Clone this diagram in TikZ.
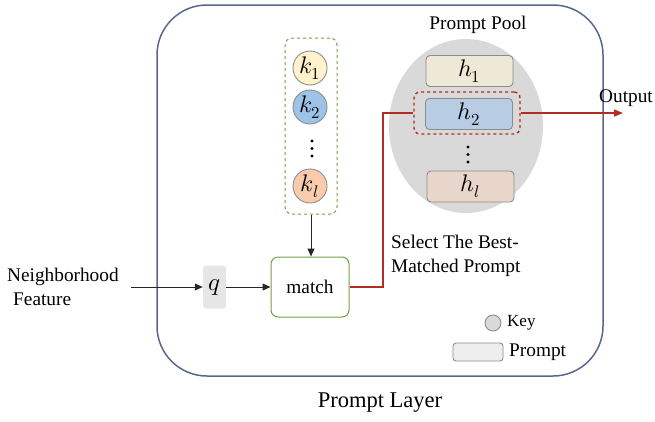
\documentclass[tikz,border=0pt]{standalone}
\usepackage{fontspec}
\usepackage{unicode-math}
\setmainfont{Liberation Serif}
\setmathfont{Latin Modern Math}
\usetikzlibrary{arrows.meta,calc}
\definecolor{frame}{RGB}{88,104,140}
\definecolor{mgreen}{RGB}{112,160,70}
\definecolor{mred}{RGB}{178,45,35}
\definecolor{kone}{RGB}{255,242,204}
\definecolor{ktwo}{RGB}{157,195,230}
\definecolor{kell}{RGB}{248,203,173}
\definecolor{hone}{RGB}{238,232,214}
\definecolor{htwo}{RGB}{184,204,228}
\definecolor{hell}{RGB}{232,214,202}
\definecolor{pool}{RGB}{217,217,217}
\definecolor{qfill}{RGB}{231,230,230}
\definecolor{outl}{RGB}{140,140,140}
\tikzset{
  txt/.style={font=\fontsize{19.3}{24}\selectfont, inner sep=0pt},
  keyc/.style={circle, draw=outl, line width=0.9pt, minimum size=34pt, inner sep=0pt, font=\fontsize{24}{26}\selectfont},
  hbox/.style={rectangle, rounded corners=4pt, draw=outl, line width=0.9pt, minimum width=87pt, minimum height=31pt, inner sep=0pt, font=\fontsize{24}{26}\selectfont},
  arr/.style={-{Triangle[length=8pt,width=7pt]}, line width=1pt, draw=black!85},
  redarr/.style={line width=1.4pt, draw=mred},
  dotc/.style={circle, fill=black, inner sep=0pt, minimum size=3.2pt}
}
\begin{document}
\begin{tikzpicture}[x=1pt,y=-1pt]
\useasboundingbox (0,0) rectangle (655,421);
% outer frame
\draw[frame, line width=1.5pt, rounded corners=50pt] (157,5) rectangle (603,376);
\node[txt, font=\fontsize{22.5}{26}\selectfont] (layer) at (380,403) {Prompt Layer};
% keys
\node[draw=mgreen, dashed, line width=1pt, rounded corners=7pt, minimum width=52pt, minimum height=176pt, inner sep=0pt] (keys) at (311,126) {};
\node[keyc, fill=kone] (k1) at (310,68) {$k_1$};
\node[keyc, fill=ktwo] (k2) at (310,107) {$k_2$};
\node[dotc] (kd1) at (312,141) {};
\node[dotc] (kd2) at (312,148.5) {};
\node[dotc] (kd3) at (312,156) {};
\node[keyc, fill=kell] (kl) at (310,186) {$k_l$};
% match
\node[draw=mgreen, line width=1pt, rounded corners=7pt, minimum width=78pt, minimum height=60pt, inner sep=0pt, txt] (match) at (310,287) {match};
\node[fill=qfill, rounded corners=3pt, minimum width=23pt, minimum height=43pt, inner sep=0pt, font=\fontsize{25}{26}\selectfont] (q) at (214.5,287) {$q$};
\node[txt, align=left, anchor=west] (nf) at (7,287) {Neighborhood\\\hspace{6pt}Feature};
\draw[arr] ([xshift=12pt]nf.east) -- (q.west);
\draw[arr] (q.east) -- (match.west);
\draw[arr] (keys.south) -- (keys.south |- match.north);
% prompt pool
\fill[pool] (466,126) ellipse [x radius=77, y radius=87];
\node[txt] (pp) at (478,25) {Prompt Pool};
\node[hbox, fill=hone] (h1) at (469.5,71) {$h_1$};
\node[hbox, fill=htwo] (h2) at (469,114) {$h_2$};
\node[dotc] (hd1) at (468,147) {};
\node[dotc] (hd2) at (468,154.5) {};
\node[dotc] (hd3) at (468,162) {};
\node[hbox, fill=hell] (hl) at (470.5,186.5) {$h_l$};
\node[draw=mred, dashed, line width=1.4pt, rounded corners=6pt, minimum width=106pt, minimum height=42pt, inner sep=0pt] (sel) at (467,113) {};
% selection path
\coordinate (turn) at (383,287);
\draw[redarr] (match.east) -- (turn) |- (sel.west);
\coordinate (out) at (623,113);
\draw[redarr, -{Triangle[length=9pt,width=7pt]}] (sel.east) -- (out);
\node[txt] (outl) at (626,98) {Output};
\node[txt, align=left, anchor=west] (selt) at (391,256) {Select The Best-\\Matched Prompt};
% legend
\node[circle, draw=outl, fill=pool, line width=0.9pt, minimum size=16pt, inner sep=0pt] (lk) at (493,323) {};
\node[txt, font=\fontsize{17}{20}\selectfont, anchor=west] (lkt) at (507,323) {Key};
\node[rectangle, rounded corners=3pt, draw=outl, fill=qfill!70, line width=0.9pt, minimum width=50pt, minimum height=18pt, inner sep=0pt] (lp) at (478,352) {};
\node[txt, anchor=west] (lpt) at (509,352) {Prompt};
\end{tikzpicture}
\end{document}
